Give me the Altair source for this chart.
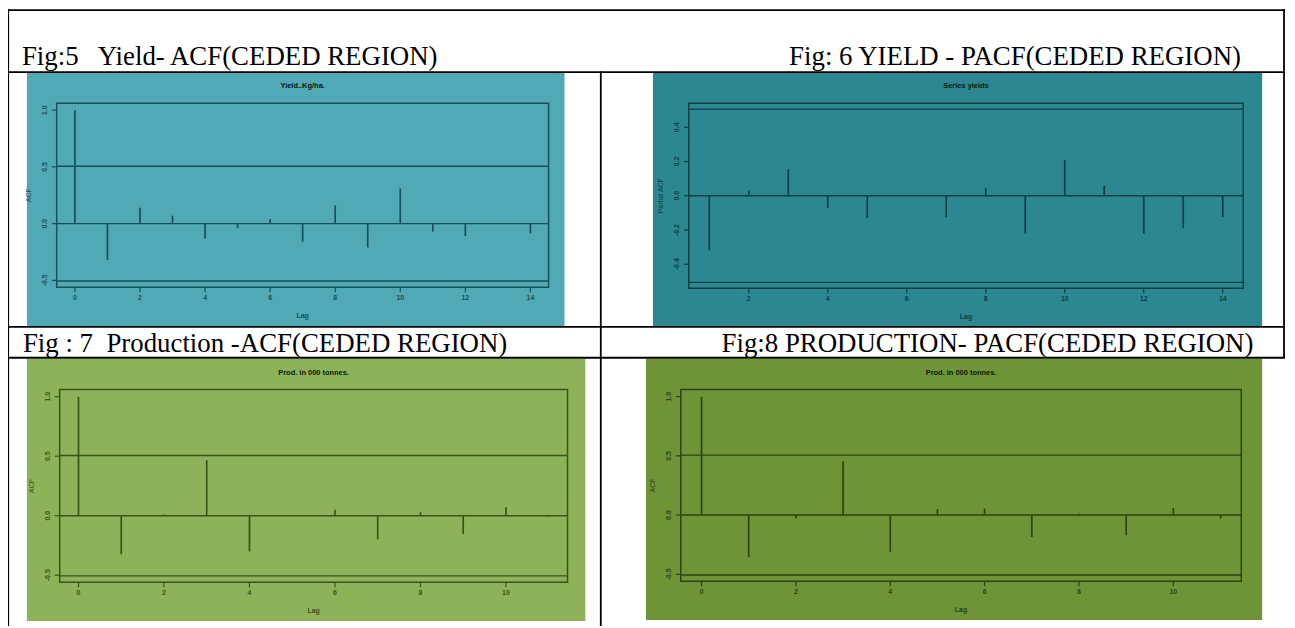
import altair as alt
import pandas as pd

OFF = 8  # page margin: chart coordinates = page coordinates - 8

# ---------------- data ----------------
fig_titles = [
    "Fig:5\u00a0\u00a0 Yield- ACF(CEDED REGION)",
    "Fig: 6 YIELD - PACF(CEDED REGION)",
    "Fig : 7\u00a0 Production -ACF(CEDED REGION)",
    "Fig:8 PRODUCTION- PACF(CEDED REGION)",
]
plot_titles = ["Yield..Kg/ha.", "Series  yields", "Prod. in 000 tonnes.", "Prod. in 000 tonnes."]
y_titles = ["ACF", "Partial ACF", "ACF", "ACF"]

p1_lags = [0, 1, 2, 3, 4, 5, 6, 7, 8, 9, 10, 11, 12, 13, 14]
p1_vals = [1.0, -0.32, 0.14, 0.07, -0.13, -0.04, 0.04, -0.16, 0.16, -0.21, 0.31, -0.07, -0.11, 0.005, -0.085]

p2_lags = [1, 2, 3, 4, 5, 6, 7, 8, 9, 10, 11, 12, 13, 14]
p2_vals = [-0.32, 0.03, 0.155, -0.073, -0.13, 0.005, -0.126, 0.045, -0.22, 0.21, 0.06, -0.22, -0.19, -0.126]

p3_lags = [0, 1, 2, 3, 4, 5, 6, 7, 8, 9, 10, 11]
p3_vals = [1.0, -0.325, 0.01, 0.466, -0.30, 0.005, 0.05, -0.2, 0.03, -0.155, 0.07, -0.01]

p4_lags = [0, 1, 2, 3, 4, 5, 6, 7, 8, 9, 10, 11]
p4_vals = [1.0, -0.355, -0.03, 0.455, -0.31, 0.05, 0.055, -0.185, 0.01, -0.17, 0.06, -0.03]

conf_limit = 0.506

x_ticks_14 = [0, 2, 4, 6, 8, 10, 12, 14]
x_ticks_p2 = [2, 4, 6, 8, 10, 12, 14]
x_ticks_11 = [0, 2, 4, 6, 8, 10]
y_ticks_acf = [-0.5, 0.0, 0.5, 1.0]
y_labels_acf = ["-0.5", "0.0", "0.5", "1.0"]
y_ticks_pacf = [-0.4, -0.2, 0.0, 0.2, 0.4]
y_labels_pacf = ["-0.4", "-0.2", "0.0", "0.2", "0.4"]

ONE = pd.DataFrame({"a": [0]})
SANS = "Liberation Sans"
SERIF = "Liberation Serif"


def vx(p):
    return alt.value(p - OFF)


def panel(lags, vals, xdom, ydom, box, xticks, yticks, ylabels, title, ylab, fg):
    L, R, T, B = [v - OFF for v in box]
    xs = alt.Scale(domain=xdom, range=[L, R], nice=False, zero=False)
    ys = alt.Scale(domain=ydom, range=[B, T], nice=False, zero=False)
    stems = pd.DataFrame({"lag": lags, "val": vals, "base": [0.0] * len(lags)})
    hl = pd.DataFrame({"y": [0.0, conf_limit, -conf_limit],
                       "x0": [xdom[0]] * 3, "x1": [xdom[1]] * 3})
    boxdf = pd.DataFrame({"x0": [xdom[0]], "x1": [xdom[1]], "y0": [ydom[0]], "y1": [ydom[1]]})
    xt = pd.DataFrame({"t": xticks, "lab": [str(t) for t in xticks]})
    yt = pd.DataFrame({"t": yticks, "lab": ylabels})

    X = lambda f: alt.X(f, scale=xs, axis=None)
    Y = lambda f: alt.Y(f, scale=ys, axis=None)

    layers = [
        alt.Chart(boxdf).mark_rect(fillOpacity=0, stroke=fg, strokeWidth=1.5).encode(
            x=X("x0:Q"), x2="x1:Q", y=Y("y0:Q"), y2="y1:Q"),
        alt.Chart(hl).mark_rule(color=fg, strokeWidth=1.4).encode(
            x=X("x0:Q"), x2="x1:Q", y=Y("y:Q")),
        alt.Chart(stems).mark_rule(color=fg, strokeWidth=1.7).encode(
            x=X("lag:Q"), y=Y("val:Q"), y2="base:Q"),
        alt.Chart(xt).mark_rule(color=fg, strokeWidth=1.2).encode(
            x=X("t:Q"), y=alt.value(B), y2=alt.value(B + 5)),
        alt.Chart(xt).mark_text(color=fg, fontSize=7, font=SANS, fontWeight="bold",
                                baseline="middle").encode(
            x=X("t:Q"), y=alt.value(B + 11), text="lab:N"),
        alt.Chart(yt).mark_rule(color=fg, strokeWidth=1.2).encode(
            y=Y("t:Q"), x=alt.value(L - 5), x2=alt.value(L)),
        alt.Chart(yt).mark_text(color=fg, fontSize=7, font=SANS, fontWeight="bold", angle=270,
                                baseline="middle").encode(
            y=Y("t:Q"), x=alt.value(L - 12), text="lab:N"),
        alt.Chart(ONE).mark_text(text=title, color="#0a1a10", fontSize=7.5, font=SANS,
                                 fontWeight="bold", baseline="middle").encode(
            x=alt.value((L + R) / 2), y=alt.value(T - 17)),
        alt.Chart(ONE).mark_text(text="Lag", color=fg, fontSize=7, font=SANS, fontWeight="bold",
                                 baseline="middle").encode(
            x=alt.value((L + R) / 2), y=alt.value(B + 29)),
        alt.Chart(ONE).mark_text(text=ylab, color=fg, fontSize=7, font=SANS, angle=270,
                                 baseline="middle").encode(
            x=alt.value(L - 28), y=alt.value((T + B) / 2)),
    ]
    return alt.layer(*layers)


def bg(x0, x1, y0, y1, color):
    return alt.Chart(ONE).mark_rect(color=color).encode(
        x=vx(x0), x2=vx(x1), y=vx(y0), y2=vx(y1))


def hline(y, x0, x1):
    return alt.Chart(ONE).mark_rule(color="black", strokeWidth=1.8).encode(
        x=vx(x0), x2=vx(x1), y=vx(y))


def vline(x, y0, y1):
    return alt.Chart(ONE).mark_rule(color="black", strokeWidth=1.8).encode(
        x=vx(x), y=vx(y0), y2=vx(y1))


def caption(text, x, y):
    return alt.Chart(ONE).mark_text(text=text, font=SERIF, fontSize=27, color="black",
                                    align="left", baseline="alphabetic").encode(
        x=vx(x), y=vx(y))


C1, F1 = "#50a9b4", "#15515a"
C2, F2 = "#2d8790", "#0a3f46"
C3, F3 = "#8db259", "#37551a"
C4, F4 = "#6e9437", "#2a4611"

layers = [
    bg(27, 568, 71, 327, C1),
    bg(657, 1270, 71, 327, C2),
    bg(27, 589, 359, 623, C3),
    bg(650, 1270, 359, 622, C4),
    panel(p1_lags, p1_vals, [-0.56, 14.56], [-0.56, 1.06], (57, 552, 102, 287),
          x_ticks_14, y_ticks_acf, y_labels_acf, plot_titles[0], y_titles[0], F1),
    panel(p2_lags, p2_vals, [0.48, 14.52], [-0.54, 0.54], (693, 1251, 102, 288),
          x_ticks_p2, y_ticks_pacf, y_labels_pacf, plot_titles[1], y_titles[1], F2),
    panel(p3_lags, p3_vals, [-0.44, 11.44], [-0.56, 1.06], (60, 571, 390, 584),
          x_ticks_11, y_ticks_acf, y_labels_acf, plot_titles[2], y_titles[2], F3),
    panel(p4_lags, p4_vals, [-0.44, 11.44], [-0.56, 1.06], (685, 1249, 390, 583),
          x_ticks_11, y_ticks_acf, y_labels_acf, plot_titles[3], y_titles[3], F4),
    # table rules
    hline(8.2, 7, 1293),
    hline(70.5, 7, 1293),
    hline(327, 7, 1293),
    hline(358, 7, 1293),
    vline(8.2, 7, 628),
    vline(1292, 7, 358),
    vline(604.5, 70, 628),
    caption(fig_titles[0], 22, 63),
    caption(fig_titles[1], 794, 63),
    caption(fig_titles[2], 23, 352),
    caption(fig_titles[3], 726, 352),
]

chart = alt.layer(*layers).resolve_scale(x="independent", y="independent").properties(
    width=1287, height=620, padding=0,
    autosize=alt.AutoSizeParams(type="none"),
    background="white",
).configure_view(stroke=None)

chart.save("out.html", embed_options={"renderer": "svg", "actions": False})
